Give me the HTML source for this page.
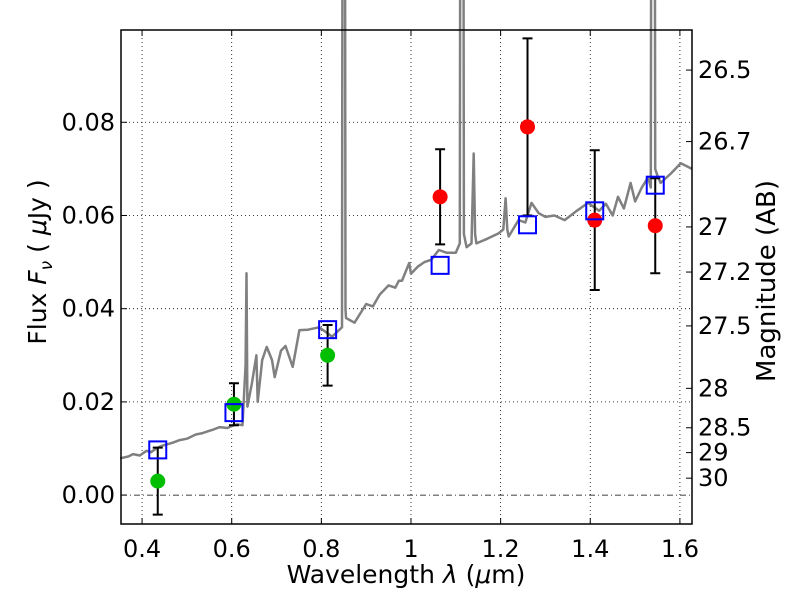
<!DOCTYPE html>
<html><head><meta charset="utf-8"><style>
body{margin:0;background:#fff;}
svg text{font-family:"DejaVu Sans","Liberation Sans",sans-serif;}
</style></head><body>
<svg id="chart" width="800" height="600" xmlns="http://www.w3.org/2000/svg">
<rect width="800" height="600" fill="#fff"/>
<g id="grid"></g><g id="spec"></g><g id="marks"></g><g id="axes"></g>
</svg>
<script>
const specLam=[0.351,0.37,0.38,0.395,0.41,0.42,0.433,0.445,0.46,0.47,0.484,0.5,0.52,0.535,0.55,0.56,0.573,0.59,0.6,0.612,0.624,0.631,0.633,0.635,0.645,0.655,0.658,0.668,0.678,0.69,0.696,0.71,0.72,0.736,0.751,0.77,0.795,0.81,0.824,0.835,0.846,0.848,0.852,0.854,0.855,0.874,0.9,0.915,0.93,0.95,0.965,0.973,0.98,0.996,1.0,1.015,1.03,1.045,1.062,1.08,1.1,1.109,1.111,1.116,1.118,1.124,1.135,1.14,1.143,1.146,1.17,1.196,1.206,1.211,1.215,1.218,1.24,1.255,1.269,1.285,1.3,1.32,1.343,1.37,1.395,1.42,1.435,1.45,1.462,1.475,1.49,1.5,1.515,1.529,1.535,1.537,1.543,1.545,1.55,1.557,1.58,1.602,1.627];
const specFlux=[0.0079,0.0083,0.0088,0.0085,0.0095,0.0092,0.0101,0.0106,0.011,0.0113,0.0118,0.0121,0.013,0.0133,0.0138,0.0141,0.0146,0.0144,0.0148,0.0152,0.015,0.028,0.0476,0.019,0.024,0.030,0.020,0.029,0.0318,0.029,0.0253,0.031,0.032,0.0275,0.0354,0.0355,0.036,0.035,0.034,0.035,0.036,0.2,0.2,0.04,0.038,0.037,0.041,0.0405,0.043,0.045,0.0445,0.046,0.046,0.0498,0.0475,0.049,0.050,0.0505,0.0526,0.052,0.052,0.054,0.2,0.2,0.056,0.0532,0.054,0.0733,0.056,0.054,0.055,0.0562,0.057,0.0637,0.057,0.0555,0.059,0.0585,0.0627,0.0605,0.0597,0.060,0.059,0.061,0.0627,0.061,0.0625,0.060,0.064,0.0615,0.067,0.063,0.066,0.0682,0.066,0.2,0.2,0.07,0.0685,0.067,0.069,0.0712,0.070];
const photLam=[0.435,0.605,0.814,1.065,1.26,1.41,1.545];
const photFlux=[0.003,0.0195,0.030,0.064,0.079,0.059,0.0578];
const photErr=[0.0072,0.0045,0.0065,0.0102,0.0190,0.0150,0.0102];
const photDetected=[false,false,false,true,true,true,true];
const modelFlux=[0.0097,0.0177,0.0355,0.0493,0.058,0.061,0.0665];
const xTicks=[0.4,0.6,0.8,1.0,1.2,1.4,1.6];
const xTickLabels=["0.4","0.6","0.8","1","1.2","1.4","1.6"];
const yTicks=[0,0.02,0.04,0.06,0.08];
const yTickLabels=["0.00","0.02","0.04","0.06","0.08"];
const magTicks=[26.5,26.7,27,27.2,27.5,28,28.5,29,30];

const L=121,R=692,T=30,B=524;
const xmin=0.353,xmax=1.627,ymin=-0.0062,ymax=0.0998;
const X=v=>L+(v-xmin)/(xmax-xmin)*(R-L);
const Y=v=>B-(v-ymin)/(ymax-ymin)*(B-T);
const NS="http://www.w3.org/2000/svg";
function mk(tag,attrs,parent){const e=document.createElementNS(NS,tag);for(const k in attrs)e.setAttribute(k,attrs[k]);document.getElementById(parent).appendChild(e);return e;}

xTicks.forEach((t,i)=>{
  const g=mk('line',{x1:X(t),x2:X(t),y1:T,y2:B,stroke:'#000','stroke-width':0.8,'stroke-dasharray':'1,3'},'grid');
  
  
  const tl=mk('text',{x:X(t),y:B+33,'font-size':24,'text-anchor':'middle'},'axes');tl.textContent=xTickLabels[i];
  
  
  mk('line',{x1:X(t),x2:X(t),y1:B,y2:B-6,stroke:'#000'},'axes');
  mk('line',{x1:X(t),x2:X(t),y1:T,y2:T+6,stroke:'#000'},'axes');
});
yTicks.forEach((t,i)=>{
  const g=mk('line',{x1:L,x2:R,y1:Y(t),y2:Y(t),stroke:'#000','stroke-width':0.8,'stroke-dasharray':t===0?'6,3,1,3':'1,3'},'grid');
  
  
  const tl=mk('text',{x:L-6,y:Y(t)+8,'font-size':24,'text-anchor':'end'},'axes');tl.textContent=yTickLabels[i];
  
  
  mk('line',{x1:L,x2:L+6,y1:Y(t),y2:Y(t),stroke:'#000'},'axes');
});
magTicks.forEach(m=>{
  const f=Math.pow(10,(23.9-m)/2.5);
  const y=Y(f);
  mk('line',{x1:R,x2:R-6,y1:y,y2:y,stroke:'#000'},'axes');
  const tl=mk('text',{x:R+6,y:y+8,'font-size':24},'axes');tl.textContent=String(m);
  
  
});
let d='';specLam.forEach((l,i)=>{d+=(i?'L':'M')+X(l).toFixed(1)+','+Y(specFlux[i]).toFixed(1);});
const sp=mk('path',{d:d,fill:'none',stroke:'#808080','stroke-width':2.5,'stroke-linejoin':'round'},'spec');


photLam.forEach((l,i)=>{
  const x=X(l),y=Y(photFlux[i]),e=photErr[i];
  const eb=mk('path',{d:`M${x},${Y(photFlux[i]-e)}V${Y(photFlux[i]+e)}M${x-5},${Y(photFlux[i]-e)}h10M${x-5},${Y(photFlux[i]+e)}h10`,stroke:'#000','stroke-width':2,fill:'none'},'marks');
  
  
  const c=mk('circle',{cx:x,cy:y,r:7.5,fill:photDetected[i]?'#ff0000':'#00bf00'},'marks');
  
  
  const s=mk('rect',{x:x-8.5,y:Y(modelFlux[i])-8.5,width:17,height:17,fill:'none',stroke:'#0000ff','stroke-width':2},'marks');
  
  
});
const fr=mk('rect',{x:L,y:T,width:R-L,height:B-T,fill:'none',stroke:'#000','stroke-width':1.5},'axes');


const xl=mk('text',{x:406,y:583,'font-size':25,'text-anchor':'middle'},'axes');
xl.setAttribute('xml:space','preserve');
xl.innerHTML='Wavelength  <tspan font-style="italic">λ</tspan> (<tspan font-style="italic">μ</tspan>m)';


const yl=mk('text',{x:0,y:0,'font-size':25,'text-anchor':'middle',transform:'translate(46,262) rotate(-90)'},'axes');
yl.innerHTML='Flux  <tspan font-style="italic">F</tspan><tspan font-style="italic" font-size="17" dy="6">ν</tspan><tspan dy="-6">  (  </tspan><tspan font-style="italic">μ</tspan>Jy )';


const ml=mk('text',{x:0,y:0,'font-size':26,'text-anchor':'middle',transform:'translate(775,281) rotate(-90)'},'axes');
ml.textContent='Magnitude (AB)';


</script>
</body></html>
